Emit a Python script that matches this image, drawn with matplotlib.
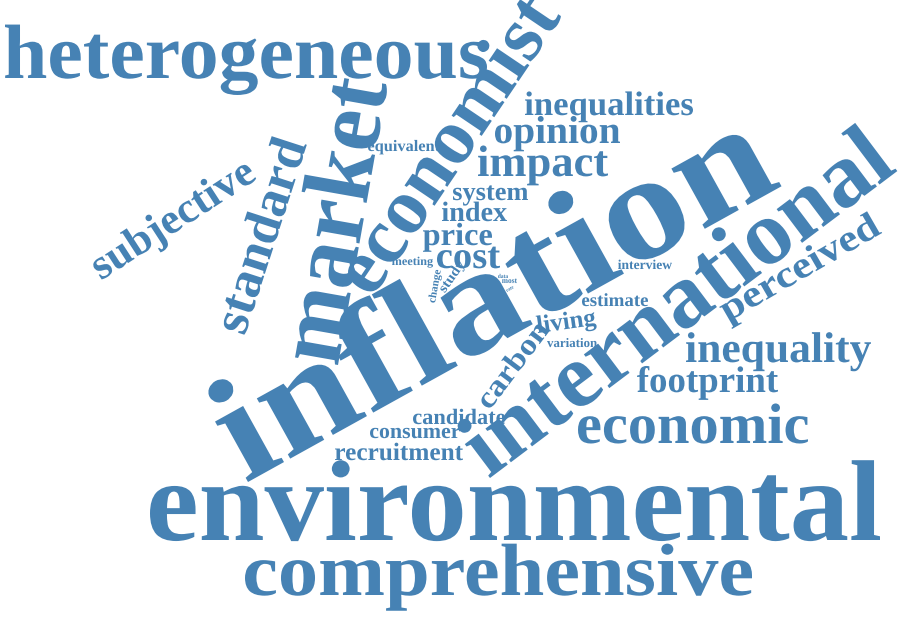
import matplotlib
matplotlib.use("Agg")
import matplotlib.pyplot as plt
from matplotlib.textpath import TextPath
from matplotlib.patches import PathPatch
from matplotlib.font_manager import FontProperties
from matplotlib.transforms import Affine2D

# Word list and relative font sizes (em in px)
words = ["heterogeneous", "environmental", "comprehensive", "inflation", "international",
         "market", "economist", "standard", "subjective", "perceived", "economic",
         "inequality", "footprint", "inequalities", "opinion", "impact", "equivalent",
         "system", "index", "price", "cost", "meeting", "interview", "estimate", "living",
         "variation", "carbon", "candidate", "consumer", "recruitment", "change", "study",
         "data", "most", "rate"]
sizes = [77, 115, 74, 150, 92, 95, 79, 52, 43, 38, 57, 43, 37, 34, 39, 44, 16,
         26, 28, 32, 38, 12, 13.5, 18.5, 25, 13, 30, 22, 21.6, 25, 11, 14, 6, 8, 5]

# Layout: baseline start (image px, y down), angle (deg ccw), baseline length (px)
pos_x = [5, 150, 245, 248, 490, 338, 373, 245, 102, 728, 578, 686, 637, 525, 495, 478, 368,
         453, 442, 423, 437, 392, 618, 582, 538, 547, 490, 413, 370, 335, 435, 445, 498, 502, 507]
pos_y = [78, 540, 595, 482, 478, 365, 297, 335, 280, 322, 443, 362, 392, 115, 143, 176, 151,
         200, 221, 245, 268, 265, 269, 306, 333, 347, 410, 424, 438, 460, 303, 293, 278, 283, 292]
angles = [0, 0, 0, 29, 37, 80, 56, 72, 33, 30, 0, 0, 0, 0, 0, 0, 0,
          0, 0, 0, 0, 0, 0, 0, 8, 0, 53, 0, 0, 0, 80, 55, 0, 0, 30]
lengths = [482, 730, 507, 610, 510, 285, 338, 200, 185, 178, 230, 185, 141, 168, 125, 130, 72,
           75, 65, 69, 63, 41, 54, 66, 59, 50, 100, 92, 90, 128, 33, 35, 10, 15, 8]

W, H = 900, 618
COLOR = "#4682B4"
fp = FontProperties(family="Liberation Serif", weight="bold")

fig = plt.figure(figsize=(9, 6.18), dpi=100)
ax = fig.add_axes([0, 0, 1, 1])
ax.set_xlim(0, W)
ax.set_ylim(0, H)
ax.axis("off")

for w, em, x, y, a, L in zip(words, sizes, pos_x, pos_y, angles, lengths):
    tp = TextPath((0, 0), w, size=100, prop=fp)
    ext = tp.get_extents()
    sx = L / (ext.x1 - ext.x0)
    sy = em / 100.0
    tr = (Affine2D().translate(-ext.x0, 0).scale(sx, sy)
          .rotate_deg(a).translate(x, H - y))
    path = tr.transform_path(tp)
    ax.add_patch(PathPatch(path, facecolor=COLOR, edgecolor="none", lw=0))

fig.savefig("out.png", dpi=100)
